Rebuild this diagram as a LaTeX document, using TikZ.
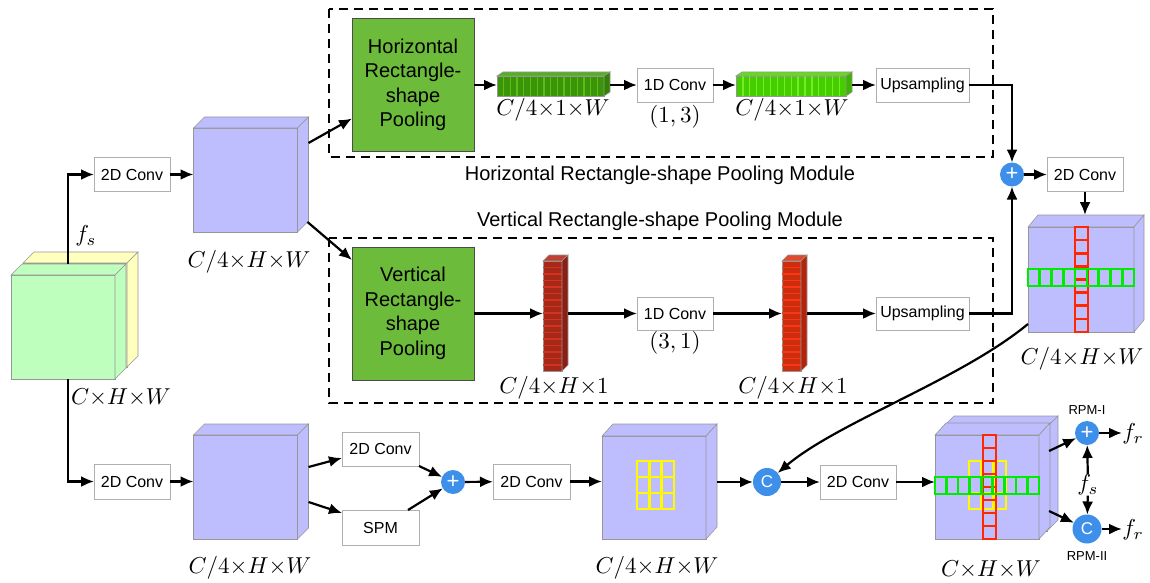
\documentclass[tikz,border=0pt]{standalone}
\usepackage{fontspec}
\setmainfont{Liberation Sans}
\usetikzlibrary{arrows.meta,calc}

\definecolor{cubefill}{RGB}{190,190,255}
\definecolor{slabgreen}{RGB}{190,255,190}
\definecolor{slabyellow}{RGB}{255,255,190}
\definecolor{edgegray}{RGB}{150,150,150}
\definecolor{boxgray}{RGB}{175,175,175}
\definecolor{poolgreen}{RGB}{108,187,58}
\definecolor{opblue}{RGB}{61,143,234}
\definecolor{cellred}{RGB}{255,40,0}
\definecolor{cellgreen}{RGB}{0,235,0}
\definecolor{cellyellow}{RGB}{255,250,0}
% feature strips
\definecolor{gAbase}{RGB}{58,150,8}
\definecolor{gAstripe}{RGB}{90,190,22}
\definecolor{gAtop}{RGB}{85,175,35}
\definecolor{gAside}{RGB}{50,130,5}
\definecolor{gBbase}{RGB}{70,205,0}
\definecolor{gBstripe}{RGB}{110,240,35}
\definecolor{gBtop}{RGB}{100,220,30}
\definecolor{gBside}{RGB}{60,180,0}
\definecolor{rAbase}{RGB}{165,40,25}
\definecolor{rAstripe}{RGB}{210,50,30}
\definecolor{rAtop}{RGB}{190,65,50}
\definecolor{rAside}{RGB}{140,30,20}
\definecolor{rBbase}{RGB}{205,45,15}
\definecolor{rBstripe}{RGB}{250,55,20}
\definecolor{rBtop}{RGB}{225,75,45}
\definecolor{rBside}{RGB}{180,35,10}

% top and right faces of a box whose front face is node #1
\newcommand{\cubesides}[5]{%
  \filldraw[fill=#4, draw=edgegray, line width=0.6pt]
    (#1.north west) -- ++(#2,-#3) -- ($(#1.north east)+(#2,-#3)$) -- (#1.north east) -- cycle;
  \filldraw[fill=#5, draw=edgegray, line width=0.6pt]
    (#1.north east) -- ($(#1.north east)+(#2,-#3)$) -- ($(#1.south east)+(#2,-#3)$) -- (#1.south east) -- cycle;
}

\begin{document}
\begin{tikzpicture}[x=1pt,y=-1pt,
  cube/.style={draw=edgegray, fill=cubefill, line width=0.6pt, inner sep=0, outer sep=0,
    minimum width=104pt, minimum height=104pt},
  slab/.style={cube},
  opbox/.style={draw=boxgray, fill=white, line width=0.9pt, inner sep=0, outer sep=0,
    minimum width=76pt, minimum height=34pt, font=\fontsize{16}{19}\selectfont},
  pool/.style={draw=black!70, fill=poolgreen, line width=0.7pt, inner sep=0, outer sep=0,
    minimum width=122pt, minimum height=133pt, align=center,
    font=\fontsize{20}{24.5}\selectfont},
  opc/.style={circle, fill=opblue, text=white, inner sep=0, outer sep=0, minimum size=24pt},
  bar/.style={draw=edgegray, line width=0.4pt, inner sep=0, outer sep=0},
  mlabel/.style={inner sep=0, font=\fontsize{10}{12}\selectfont, scale=2.3},
  title/.style={inner sep=0, font=\fontsize{20}{24}\selectfont},
  small/.style={inner sep=0, font=\fontsize{13}{15}\selectfont},
  arr/.style={line width=2.2pt, -{Latex[length=13pt,width=11pt]}},
  dashbox/.style={line width=2.1pt, dash pattern=on 9pt off 6pt},
  redcell/.style={draw=cellred, line width=2.6pt},
  greencell/.style={draw=cellgreen, line width=2.6pt},
  yelcell/.style={draw=cellyellow, line width=2.6pt}]

\useasboundingbox (0,0) rectangle (1150,583);

% module frames
\draw[dashbox] (329,9) rectangle (993,157);
\draw[dashbox] (329,238) rectangle (993,403);
\node[title] (htitle) at (660,175) {Horizontal Rectangle-shape Pooling Module};
\node[title] (vtitle) at (660,221) {Vertical Rectangle-shape Pooling Module};

% input feature maps
\node[slab, fill=slabyellow] (fin-back) at (75,315) {};
\cubesides{fin-back}{11}{11}{slabyellow}{slabyellow}
\node[slab, fill=slabgreen] (fin) at (63,327) {};
\cubesides{fin}{11}{11}{slabgreen}{slabgreen}
\node[mlabel] (lab-in) at (121,398) {$C{\times}H{\times}W$};
\coordinate (fin-top) at ($(fin.north)+(5,-11)$);
\coordinate (fin-bot) at ($(fin.south)+(5,0)$);
\node[mlabel] (fs1) at (86,236) {$f_s$};

% upper branch
\node[opbox] (conv1) at (132,174.5) {2D Conv};
\node[cube] (c1) at (245.5,180) {};
\cubesides{c1}{11}{11}{cubefill}{cubefill}
\node[mlabel] (lab-c1) at (249,262) {$C/4{\times}H{\times}W$};

% horizontal pooling module
\node[pool] (hrp) at (413,85) {Horizontal\\Rectangle-\\shape\\Pooling};
\node[bar, fill=gAbase, minimum width=107pt, minimum height=20pt] (gb1) at (550.5,86) {};
\foreach \i in {1,...,15}
  \draw[gAstripe, line width=1.3pt] ($(gb1.north west)+(\i*6.7,0)$) -- ++(0,20);
\cubesides{gb1}{6}{4}{gAtop}{gAside}
\node[mlabel] (lab-gb1) at (553,110) {$C/4{\times}1{\times}W$};
\node[opbox] (c1d1) at (675,85) {1D Conv};
\node[mlabel] (k13) at (675,117) {$(1,3)$};
\node[bar, fill=gBbase, minimum width=110pt, minimum height=20pt] (gb2) at (791,86) {};
\foreach \i in {1,...,15}
  \draw[gBstripe, line width=1.3pt] ($(gb2.north west)+(\i*6.9,0)$) -- ++(0,20);
\cubesides{gb2}{6}{4}{gBtop}{gBside}
\node[mlabel] (lab-gb2) at (792,110) {$C/4{\times}1{\times}W$};
\node[opbox, minimum width=93pt] (ups1) at (922.5,85) {Upsampling};

% vertical pooling module
\node[pool] (vrp) at (413,313.5) {Vertical\\Rectangle-\\shape\\Pooling};
\node[bar, fill=rAbase, minimum width=19pt, minimum height=110pt] (rb1) at (552.5,316) {};
\foreach \i in {1,...,16}
  \draw[rAstripe, line width=1.3pt] ($(rb1.north west)+(0,\i*6.5)$) -- ++(19,0);
\cubesides{rb1}{6}{6}{rAtop}{rAside}
\node[mlabel] (lab-rb1) at (554,388) {$C/4{\times}H{\times}1$};
\node[opbox, minimum height=33pt] (c1d2) at (675,313.5) {1D Conv};
\node[mlabel] (k31) at (675,343) {$(3,1)$};
\node[bar, fill=rBbase, minimum width=19pt, minimum height=110pt] (rb2) at (791.5,316) {};
\foreach \i in {1,...,16}
  \draw[rBstripe, line width=1.3pt] ($(rb2.north west)+(0,\i*6.5)$) -- ++(19,0);
\cubesides{rb2}{6}{6}{rBtop}{rBside}
\node[mlabel] (lab-rb2) at (793,388) {$C/4{\times}H{\times}1$};
\node[opbox, minimum width=93pt, minimum height=33pt] (ups2) at (922.5,313.5) {Upsampling};

% fusion of both directions
\node[opc, font=\fontsize{22}{22}\selectfont] (plus1) at (1012,174.5) {+};
\node[opbox] (conv2) at (1085,174.5) {2D Conv};
\node[cube, minimum width=106pt, minimum height=105pt] (c3) at (1081,279.5) {};
\cubesides{c3}{10}{12}{cubefill}{cubefill}
\draw[redcell] (1075,227) rectangle (1088,332);
\foreach \k in {1,...,7} \draw[redcell] (1075,{227+\k*13.125}) -- ++(13,0);
\draw[greencell] (1028,269) rectangle (1134,286);
\foreach \k in {1,...,8} \draw[greencell] ({1028+\k*106/9},269) -- ++(0,17);
\node[mlabel] (lab-c3) at (1082,359) {$C/4{\times}H{\times}W$};
\coordinate (c3top) at ($(c3.north)+(0,-12)$);
\coordinate (c3bl) at ($(c3.south west)+(0,-8)$);

% lower branch
\node[opbox, minimum height=35pt] (conv3) at (132,481.5) {2D Conv};
\node[cube] (c2) at (245.5,487) {};
\cubesides{c2}{11}{11}{cubefill}{cubefill}
\node[mlabel] (lab-c2) at (250,568) {$C/4{\times}H{\times}W$};
\node[opbox, minimum width=77pt] (conv4) at (380.5,449) {2D Conv};
\node[opbox, minimum width=77pt, minimum height=35pt] (spm) at (380.5,527.5) {SPM};
\node[opc, font=\fontsize{22}{22}\selectfont] (plus2) at (453,482) {+};
\node[opbox, minimum width=77pt, minimum height=35pt] (conv5) at (531.5,481.5) {2D Conv};
\node[cube, minimum height=103pt] (c4) at (654,487.5) {};
\cubesides{c4}{11}{12}{cubefill}{cubefill}
\draw[yelcell] (637,461) rectangle (674,509);
\foreach \k in {1,2} \draw[yelcell] ({637+\k*37/3},461) -- ++(0,48);
\foreach \k in {1,2} \draw[yelcell] (637,{461+\k*16}) -- ++(37,0);
\node[mlabel] (lab-c4) at (657,568) {$C/4{\times}H{\times}W$};
\node[opc, minimum size=28pt, font=\fontsize{17}{17}\selectfont] (cc1) at (767,482) {C};
\node[opbox] (conv6) at (858,482) {2D Conv};

% refined feature
\node[cube] (c5-back) at (995,479) {};
\cubesides{c5-back}{11}{11}{cubefill}{cubefill}
\node[cube] (c5) at (987,487) {};
\cubesides{c5}{11}{12}{cubefill}{cubefill}
\draw[yelcell] (969,461) rectangle (1006,509);
\foreach \k in {1,2} \draw[yelcell] ({969+\k*37/3},461) -- ++(0,48);
\foreach \k in {1,2} \draw[yelcell] (969,{461+\k*16}) -- ++(37,0);
\draw[redcell] (983,435) rectangle (996,539);
\foreach \k in {1,...,7} \draw[redcell] (983,{435+\k*13}) -- ++(13,0);
\draw[greencell] (935,477) rectangle (1039,494);
\foreach \k in {1,...,8} \draw[greencell] ({935+\k*104/9},477) -- ++(0,17);
\node[mlabel] (lab-c5) at (991,570) {$C{\times}H{\times}W$};

% residual heads
\node[opc, font=\fontsize{22}{22}\selectfont] (plus3) at (1087,433) {+};
\node[opc, minimum size=29pt, font=\fontsize{17}{17}\selectfont] (cc2) at (1087,529) {C};
\node[small] (rpm1) at (1087,410) {RPM-I};
\node[small] (rpm2) at (1087,556) {RPM-II};
\node[mlabel] (fs2) at (1088,485) {$f_s$};
\node[mlabel, anchor=west] (fr1) at (1122,434) {$f_r$};
\node[mlabel, anchor=west] (fr2) at (1122,530) {$f_r$};

% connectors
\draw[arr] (fin-top) |- (conv1.west);
\draw[arr] (fin-bot) |- (conv3.west);
\draw[arr] (conv1.east) -- (conv1.east -| c1.west);
\draw[arr] ($(c1.north east)+(11,15)$) -- ($(hrp.south west)+(0,-33)$);
\draw[arr] ($(c1.south east)+(10,-10)$) -- ($(vrp.north west)+(0,13)$);

\draw[arr] (hrp.east) -- (hrp.east -| gb1.west);
\draw[arr] ($(gb1.east)+(6,-1)$) -- (c1d1.west);
\draw[arr] (c1d1.east) -- (c1d1.east -| gb2.west);
\draw[arr] ($(gb2.east)+(6,-1)$) -- (ups1.west);
\draw[arr] (ups1.east) -| (plus1.north);

\draw[arr] (vrp.east) -- (vrp.east -| rb1.west);
\draw[arr] ($(rb1.east)+(6,-2.5)$) -- (c1d2.west);
\draw[arr] (c1d2.east) -- (c1d2.east -| rb2.west);
\draw[arr] ($(rb2.east)+(6,-2.5)$) -- (ups2.west);
\draw[arr] (ups2.east) -| (plus1.south);

\draw[arr] (plus1.east) -- (conv2.west);
\draw[arr] (conv2.south) -- (conv2.south |- c3top);
\draw[arr] (c3bl) .. controls (960,380) and (838,422) .. (cc1);

\draw[arr] (conv3.east) -- (conv3.east -| c2.west);
\draw[arr] ($(c2.north east)+(11,32)$) -- ($(conv4.south west)+(0,-8)$);
\draw[arr] ($(c2.north east)+(11,67)$) -- ($(spm.north west)+(0,3)$);
\draw[arr] (conv4.south east) -- (plus2);
\draw[arr] ($(spm.north east)+(-11,0)$) -- (plus2);
\draw[arr] (plus2) -- (conv5);
\draw[arr] (conv5.east) -- (conv5.east -| c4.west);
\draw[arr] ($(c4.east)+(11,-5.5)$) -- (cc1);
\draw[arr] (cc1) -- (conv6);
\draw[arr] (conv6.east) -- (conv6.east -| c5.west);

\draw[arr] ($(c5.north east)+(10,16)$) -- (plus3);
\draw[arr] ($(c5.north east)+(10,76)$) -- (cc2);
\draw[arr] (plus3.east) -- (plus3.east -| fr1.west);
\draw[arr] (cc2.east) -- (cc2.east -| fr2.west);
\draw[arr] (fs2) -- (plus3);
\draw[arr] (fs2) -- (cc2);

\end{tikzpicture}
\end{document}
